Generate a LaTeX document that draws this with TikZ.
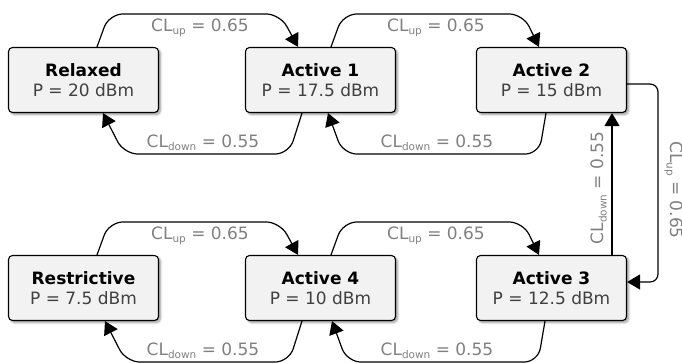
\documentclass[tikz,border=0pt]{standalone}
\usepackage{fontspec}
\setmainfont{DejaVu Sans}
\usetikzlibrary{arrows.meta,calc,shadows.blur}
\definecolor{boxfill}{HTML}{F2F2F2}
\definecolor{lblgray}{HTML}{808080}
\definecolor{ptext}{HTML}{404040}
\newcommand{\lsub}[1]{\raisebox{-3.5pt}{\fontsize{10.5}{10}\selectfont #1}}
\begin{document}
\begin{tikzpicture}[x=1pt,y=-1pt,
  state/.style={draw=black, line width=1.1pt, fill=boxfill, rounded corners=4pt,
    minimum width=150pt, minimum height=65pt, inner sep=0pt, align=center,
    font=\fontsize{17}{20}\selectfont,
    blur shadow={shadow xshift=2pt, shadow yshift=-2pt, shadow blur steps=6, shadow opacity=40}},
  arr/.style={draw=black, line width=1.2pt, rounded corners=14pt, -{Triangle[length=13pt,width=15pt]}},
  lbl/.style={text=lblgray, font=\fontsize{17}{20}\selectfont, anchor=base, inner sep=0pt}]
\useasboundingbox (0,0) rectangle (682,362);

\node[state] (R)  at (83.5,80)  {\textbf{Relaxed}\\\textcolor{ptext}{P = 20 dBm}};
\node[state] (A1) at (320.5,80) {\textbf{Active 1}\\\textcolor{ptext}{P = 17.5 dBm}};
\node[state] (A2) at (551.5,80) {\textbf{Active 2}\\\textcolor{ptext}{P = 15 dBm}};
\node[state] (RS) at (83.5,288) {\textbf{Restrictive}\\\textcolor{ptext}{P = 7.5 dBm}};
\node[state] (A4) at (320.5,288) {\textbf{Active 4}\\\textcolor{ptext}{P = 10 dBm}};
\node[state] (A3) at (551.5,288) {\textbf{Active 3}\\\textcolor{ptext}{P = 12.5 dBm}};

% top row
\draw[arr] ($(R.north)+(13.5,0)$) -- ++(12,-33) -- ($(A1.north)+(-40.5,-33)$) -- ($(A1.north)+(-22.5,0)$);
\draw[arr] ($(A1.north)+(10.5,0)$) -- ++(12,-33) -- ($(A2.north)+(-28.5,-33)$) -- ($(A2.north)+(-12.5,0)$);
\draw[arr] ($(A1.south)+(-18.5,0)$) -- ++(-13,41) -- ($(R.south)+(40.5,41)$) -- ($(R.south)+(19.5,0)$);
\draw[arr] ($(A2.south)+(-5.5,0)$) -- ++(-7,41) -- ($(A1.south)+(22.5,41)$) -- ($(A1.south)+(7.5,0)$);

% bottom row
\draw[arr] ($(RS.north)+(13.5,0)$) -- ++(12,-33) -- ($(A4.north)+(-40.5,-33)$) -- ($(A4.north)+(-22.5,0)$);
\draw[arr] ($(A4.north)+(10.5,0)$) -- ++(12,-33) -- ($(A3.north)+(-28.5,-33)$) -- ($(A3.north)+(-12.5,0)$);
\draw[arr] ($(A4.south)+(-18.5,0)$) -- ++(-13,41) -- ($(RS.south)+(42.5,41)$) -- ($(RS.south)+(21.5,0)$);
\draw[arr] ($(A3.south)+(-6.5,0)$) -- ++(-7,41) -- ($(A4.south)+(26.5,41)$) -- ($(A4.south)+(11.5,0)$);

% right side
\draw[arr, rounded corners=8pt] ($(A2.east)+(0,4)$) -- ($(A2.east)+(31,4)$) -- ($(A3.east)+(31,-6)$) -- ($(A3.east)+(0,-6)$);
\draw[arr] ($(A3.north)+(60.5,0)$) -- ($(A2.south)+(60.5,0)$);

% labels
\node[lbl] (l1) at (200,31) {CL\lsub{up} = 0.65};
\node[lbl] (l2) at (436,31) {CL\lsub{up} = 0.65};
\node[lbl] (l3) at (203,147) {CL\lsub{down} = 0.55};
\node[lbl] (l4) at (437,147) {CL\lsub{down} = 0.55};
\node[lbl] (l5) at (200,239) {CL\lsub{up} = 0.65};
\node[lbl] (l6) at (436,239) {CL\lsub{up} = 0.65};
\node[lbl] (l7) at (203,355) {CL\lsub{down} = 0.55};
\node[lbl] (l8) at (437,355) {CL\lsub{down} = 0.55};
\node[lbl, rotate=-90] (l9) at (670,190) {CL\lsub{up} = 0.65};
\node[lbl, rotate=90] (l10) at (603,188) {CL\lsub{down} = 0.55};
\end{tikzpicture}
\end{document}
